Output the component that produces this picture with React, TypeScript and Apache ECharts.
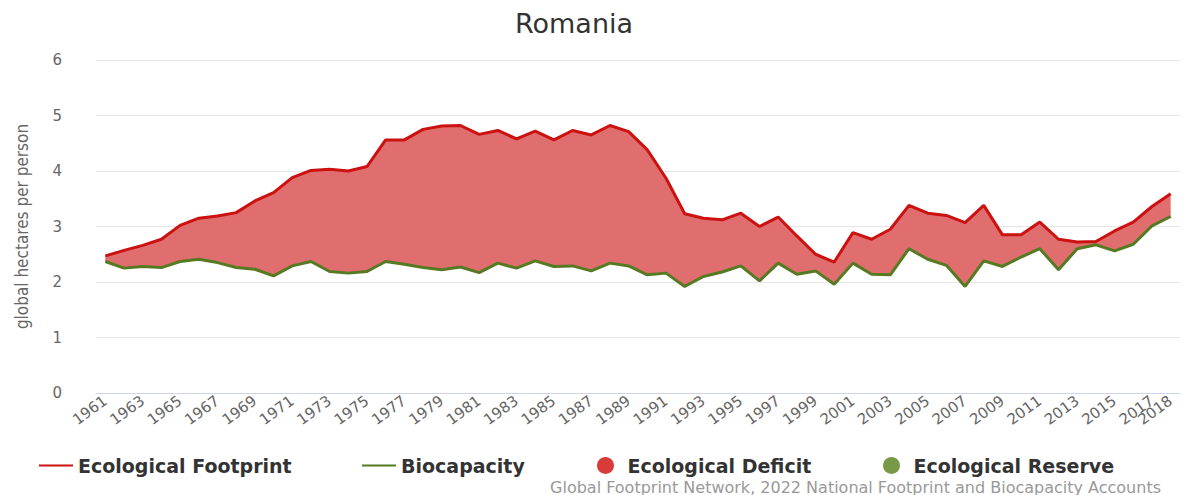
import React, { useEffect, useRef } from "react";
import * as echarts from "echarts";

const years: string[] = [
  "1961","1962","1963","1964","1965","1966","1967","1968","1969","1970",
  "1971","1972","1973","1974","1975","1976","1977","1978","1979","1980",
  "1981","1982","1983","1984","1985","1986","1987","1988","1989","1990",
  "1991","1992","1993","1994","1995","1996","1997","1998","1999","2000",
  "2001","2002","2003","2004","2005","2006","2007","2008","2009","2010",
  "2011","2012","2013","2014","2015","2016","2017","2018",
];

const footprint: number[] = [
  2.47, 2.57, 2.66, 2.77, 3.02, 3.15, 3.19, 3.25, 3.46, 3.61,
  3.88, 4.01, 4.03, 4.0, 4.08, 4.56, 4.56, 4.75, 4.81, 4.82,
  4.66, 4.73, 4.58, 4.72, 4.56, 4.73, 4.65, 4.82, 4.71, 4.38,
  3.87, 3.23, 3.15, 3.12, 3.24, 3.0, 3.17, 2.83, 2.5, 2.36,
  2.89, 2.77, 2.95, 3.38, 3.24, 3.2, 3.07, 3.38, 2.85, 2.85,
  3.08, 2.77, 2.72, 2.73, 2.92, 3.08, 3.36, 3.59,
];

const biocapacity: number[] = [
  2.37, 2.25, 2.28, 2.26, 2.37, 2.41, 2.35, 2.26, 2.23, 2.11,
  2.29, 2.37, 2.19, 2.16, 2.19, 2.37, 2.32, 2.26, 2.22, 2.27,
  2.17, 2.34, 2.25, 2.38, 2.28, 2.29, 2.2, 2.34, 2.29, 2.13,
  2.16, 1.92, 2.1, 2.18, 2.29, 2.02, 2.34, 2.14, 2.2, 1.96,
  2.34, 2.14, 2.13, 2.6, 2.41, 2.3, 1.92, 2.38, 2.28, 2.45,
  2.6, 2.22, 2.6, 2.67, 2.56, 2.68, 3.01, 3.18,
];

const yTicks = [0, 1, 2, 3, 4, 5, 6];

const TITLE = "Romania";
const Y_NAME = "global hectares per person";
const CREDIT = "Global Footprint Network, 2022 National Footprint and Biocapacity Accounts";

const FP_NAME = "Ecological Footprint";
const BC_NAME = "Biocapacity";
const DEF_NAME = "Ecological Deficit";
const RES_NAME = "Ecological Reserve";

export default function App() {
  const ref = useRef<HTMLDivElement>(null);

  useEffect(() => {
    if (!ref.current) return;
    const chart = echarts.init(ref.current, undefined, { renderer: "svg" });

    const base = footprint.map((f, i) => Math.min(f, biocapacity[i]));
    const deficit = footprint.map((f, i) => Math.max(f - biocapacity[i], 0));
    const reserve = footprint.map((f, i) => Math.max(biocapacity[i] - f, 0));
    const last = years.length - 1;
    const tickIdx = (idx: number) => idx % 2 === 0 || idx === last;

    const legendText = {
      fontFamily: "DejaVu Sans",
      fontWeight: "bold" as const,
      fontSize: 19,
      color: "#333333",
    };
    const legendCommon = {
      top: 451,
      itemWidth: 34,
      itemHeight: 17,
      itemGap: 10,
      textStyle: legendText,
      selectedMode: false,
    };

    const labelStyle = {
      rotate: 36,
      margin: 6,
      fontFamily: "DejaVu Sans",
      fontSize: 15,
      color: "#666666",
    };

    chart.setOption({
      animation: false,
      backgroundColor: "#ffffff",
      title: [
        {
          text: TITLE,
          left: 510,
          top: 5,
          textStyle: {
            fontFamily: "DejaVu Sans",
            fontWeight: "normal",
            fontSize: 27,
            color: "#333333",
          },
        },
        {
          text: CREDIT,
          right: 18,
          top: 474,
          textStyle: {
            fontFamily: "DejaVu Sans",
            fontWeight: "normal",
            fontSize: 16,
            color: "#999999",
          },
        },
      ],
      legend: [
        { ...legendCommon, left: 33, data: [{ name: FP_NAME, itemStyle: { opacity: 0 } }] },
        { ...legendCommon, left: 356, data: [{ name: BC_NAME, itemStyle: { opacity: 0 } }] },
        { ...legendCommon, left: 592, data: [{ name: DEF_NAME, icon: "circle" }] },
        { ...legendCommon, left: 878, data: [{ name: RES_NAME, icon: "circle" }] },
      ],
      grid: { left: 96, right: 4, top: 60, bottom: 102, containLabel: false },
      xAxis: [
        {
          type: "category",
          position: "bottom",
          data: years,
          boundaryGap: true,
          axisLine: { lineStyle: { color: "#ccd6eb", width: 1 } },
          axisTick: {
            alignWithLabel: true,
            length: 10,
            interval: (idx: number) => tickIdx(idx),
            lineStyle: { color: "#ccd6eb" },
          },
          axisLabel: {
            ...labelStyle,
            interval: (idx: number) => idx % 2 === 0,
            hideOverlap: false,
          },
          splitLine: { show: false },
        },
        {
          type: "category",
          position: "bottom",
          data: years,
          boundaryGap: true,
          axisLine: { show: false },
          axisTick: { show: false },
          axisLabel: {
            ...labelStyle,
            interval: (idx: number) => idx === last,
            hideOverlap: false,
          },
          splitLine: { show: false },
        },
      ],
      yAxis: {
        type: "value",
        min: yTicks[0],
        max: yTicks[yTicks.length - 1],
        interval: 1,
        name: Y_NAME,
        nameLocation: "middle",
        nameGap: 66,
        nameTextStyle: {
          fontFamily: "Liberation Sans Narrow, DejaVu Sans Condensed, sans-serif",
          fontSize: 17,
          color: "#666666",
        },
        axisLine: { show: false },
        axisTick: { show: false },
        axisLabel: {
          margin: 34,
          fontFamily: "DejaVu Sans",
          fontSize: 15,
          color: "#666666",
        },
        splitLine: { lineStyle: { color: "#e6e6e6", width: 1 } },
      },
      series: [
        {
          name: "base",
          type: "line",
          stack: "fill",
          data: base,
          symbol: "none",
          silent: true,
          lineStyle: { width: 0, opacity: 0 },
          itemStyle: { color: "transparent" },
        },
        {
          name: DEF_NAME,
          type: "line",
          stack: "fill",
          data: deficit,
          symbol: "none",
          silent: true,
          lineStyle: { width: 0, opacity: 0 },
          itemStyle: { color: "#d93b3b" },
          areaStyle: { color: "#e06e6e", opacity: 1 },
        },
        {
          name: RES_NAME,
          type: "line",
          stack: "fill",
          data: reserve,
          symbol: "none",
          silent: true,
          lineStyle: { width: 0, opacity: 0 },
          itemStyle: { color: "#789a47" },
          areaStyle: { color: "#9dbb72", opacity: 1 },
        },
        {
          name: FP_NAME,
          type: "line",
          data: footprint,
          symbol: "none",
          z: 5,
          itemStyle: { color: "#cc1111" },
          lineStyle: { color: "#cc1111", width: 3 },
        },
        {
          name: BC_NAME,
          type: "line",
          data: biocapacity,
          symbol: "none",
          z: 5,
          itemStyle: { color: "#557a22" },
          lineStyle: { color: "#557a22", width: 3 },
        },
      ],
    });

    return () => {
      chart.dispose();
    };
  }, []);

  return <div ref={ref} style={{ width: 1184, height: 495, position: "absolute", left: 0, top: 0 }} />;
}
